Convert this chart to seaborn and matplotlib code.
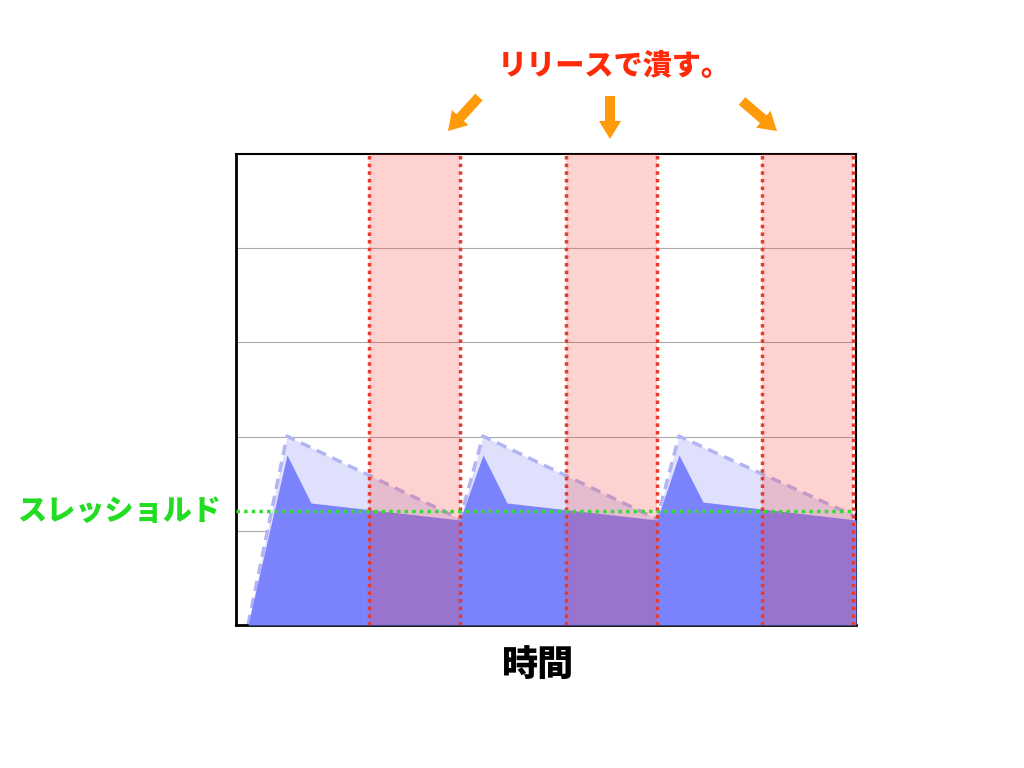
import matplotlib
matplotlib.use("Agg")
import matplotlib.pyplot as plt
import seaborn as sns
import numpy as np
import pandas as pd

# data (x: time units, y: arbitrary load 0-100)
solid_x = [1.2, 5.1, 7.5, 22.4, 24.7, 27.1, 42.1, 44.3, 46.7, 62.0]
solid_y = [0.0, 36.1, 25.9, 22.3, 36.1, 25.9, 22.3, 36.1, 26.1, 22.3]
light_x = [1.2, 5.1, 22.4, 24.7, 42.1, 44.3, 62.0]
light_y = [0.0, 40.1, 22.5, 40.1, 22.5, 40.1, 23.0]
release_start = [13.3, 33.0, 52.6]
release_end = [22.4, 42.1, 61.7]
threshold = 24.2
grid_levels = [20, 40, 60, 80]

sns.set_style("white")
plt.rcParams['font.family'] = ['Noto Sans CJK JP', 'DejaVu Sans']

fig = plt.figure(figsize=(10.24, 7.68), dpi=100)
ax = fig.add_axes([236 / 1024, 1 - 625 / 768, 620 / 1024, 471 / 768])
ax.set_xlim(0, 62)
ax.set_ylim(0, 100)

for g in grid_levels:
    ax.axhline(g, color="#aaaaaa", lw=0.8, zorder=0)

# light (dashed) area
ax.fill_between(light_x, light_y, color="#dfe0fc", lw=0, zorder=1)
light_df = pd.DataFrame({"t": light_x, "v": light_y})
sns.lineplot(data=light_df, x="t", y="v", ax=ax, color="#b3b4f5", lw=2.5,
             linestyle=(0, (3, 2)), zorder=2, sort=False)

# solid area
ax.fill_between(solid_x, solid_y, color="#7b83fc", lw=0, zorder=3)

# release bands
for s, e in zip(release_start, release_end):
    ax.axvspan(s, e, color="#fa463c", alpha=0.24, lw=0, zorder=4)
    for xv in (s, e):
        ax.axvline(xv, color="#e8392a", lw=2.5, linestyle=(0, (1, 1.2)), zorder=6)

# threshold
ax.axhline(threshold, color="#33dd33", lw=2.5, linestyle=(0, (1, 1.2)), zorder=7)

ax.set_xticks([])
ax.set_yticks([])
ax.set_xlabel("")
ax.set_ylabel("")
for sp in ax.spines.values():
    sp.set_color("black")
    sp.set_linewidth(1.5)
    sp.set_visible(True)
ax.spines["left"].set_linewidth(2)
ax.spines["bottom"].set_linewidth(2)

fig.text(538 / 1024, 1 - 665 / 768, "時間", ha="center", va="center",
         fontsize=26, fontweight="heavy", color="black")
fig.text(119 / 1024, 1 - 511 / 768, "スレッショルド", ha="center", va="center",
         fontsize=21, fontweight="heavy", color="#22dd22")
fig.text(614 / 1024, 1 - 66 / 768, "リリースで潰す。", ha="center", va="center",
         fontsize=21, fontweight="heavy", color="#ff2a0a")

arrows = [((479, 97), (448, 131)), ((610, 96), (610, 139)), ((742, 101), (777, 131))]
for (x0, y0), (x1, y1) in arrows:
    ax.annotate("", xy=(x1, 768 - y1), xytext=(x0, 768 - y0),
                xycoords="figure pixels", textcoords="figure pixels",
                arrowprops=dict(arrowstyle="simple,head_width=0.8,head_length=0.65,tail_width=0.36",
                                mutation_scale=20, color="#ff9a0a", lw=0,
                                shrinkA=0, shrinkB=0))

fig.savefig("out.png", dpi=100)
